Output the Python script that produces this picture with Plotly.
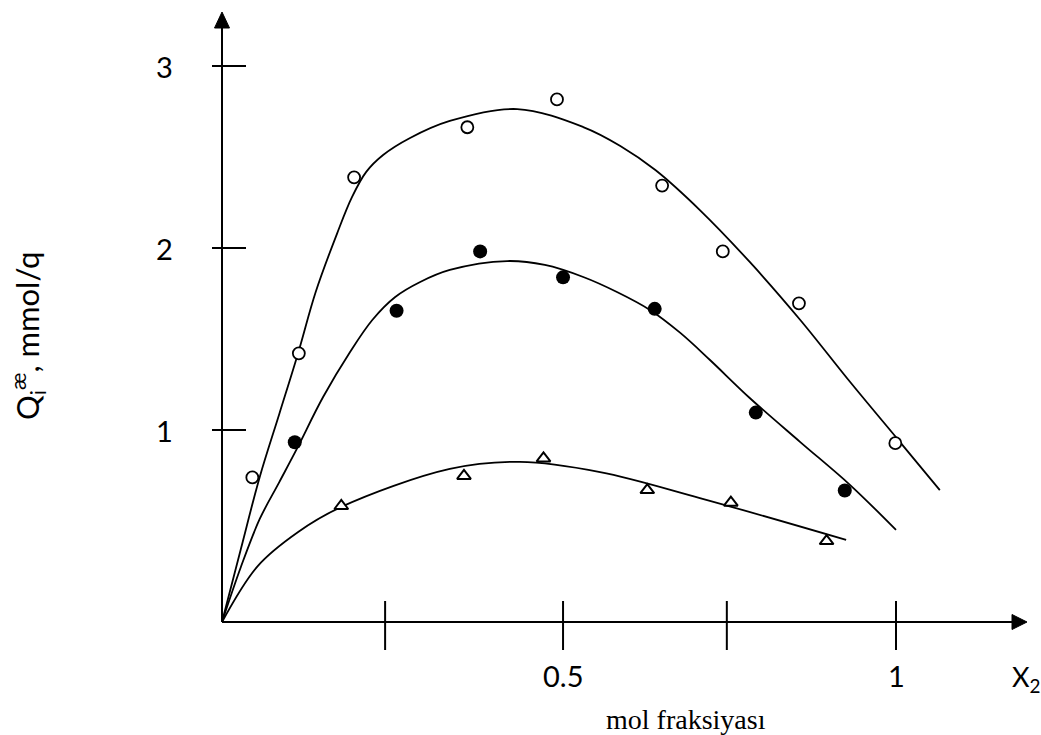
import plotly.graph_objects as go

# ---------------- data ----------------
open_x = [0.045, 0.114, 0.196, 0.364, 0.497, 0.653, 0.743, 0.856, 0.999]
open_y = [0.78, 1.45, 2.40, 2.67, 2.82, 2.355, 2.00, 1.72, 0.965]

filled_x = [0.108, 0.259, 0.383, 0.506, 0.642, 0.792, 0.924]
filled_y = [0.97, 1.68, 2.00, 1.86, 1.69, 1.13, 0.71]

tri_x = [0.177, 0.359, 0.477, 0.631, 0.755, 0.897]
tri_y = [0.626, 0.788, 0.883, 0.712, 0.644, 0.437]

curve_open_x = [0, 0.028, 0.056, 0.085, 0.113, 0.139, 0.171, 0.193, 0.214, 0.239, 0.279,
                0.338, 0.438, 0.536, 0.591, 0.643, 0.709, 0.783, 0.858, 0.932, 1.006, 1.065]
curve_open_y = [0, 0.394, 0.783, 1.123, 1.452, 1.781, 2.099, 2.294, 2.429, 2.520, 2.612,
                2.704, 2.768, 2.671, 2.569, 2.439, 2.223, 1.943, 1.630, 1.295, 0.971, 0.712]

curve_filled_x = [0, 0.028, 0.056, 0.085, 0.111, 0.150, 0.190, 0.223, 0.257, 0.294, 0.338,
                  0.423, 0.479, 0.536, 0.586, 0.635, 0.680, 0.724, 0.783, 0.858, 0.932, 1.000]
curve_filled_y = [0, 0.297, 0.556, 0.755, 0.934, 1.214, 1.457, 1.630, 1.754, 1.835, 1.900,
                  1.948, 1.927, 1.862, 1.781, 1.684, 1.560, 1.414, 1.209, 0.971, 0.739, 0.497]

curve_tri_x = [0, 0.053, 0.113, 0.177, 0.338, 0.442, 0.561, 0.709, 0.926]
curve_tri_y = [0, 0.302, 0.486, 0.621, 0.826, 0.864, 0.809, 0.669, 0.443]

y_tick_labels = ["1", "2", "3"]
y_tick_pos = [1.036, 2.018, 3.0]
x_tick_pos = [0.242, 0.506, 0.749, 1.0]
x_tick_labels = ["", "0.5", "", "1"]

# ---------------- layout constants ----------------
W, H = 1041, 735
X0_PX, PX_PER_X = 222, 674.0
Y0_PX, PX_PER_Y = 622, 185.3
x_range = [-X0_PX / PX_PER_X, (W - X0_PX) / PX_PER_X]
y_range = [-(H - Y0_PX) / PX_PER_Y, Y0_PX / PX_PER_Y]


def dx(px):
    return (px - X0_PX) / PX_PER_X


def dy(py):
    return (Y0_PX - py) / PX_PER_Y


LINE_W = 1.8
fig = go.Figure()

for cx, cy in [(curve_open_x, curve_open_y), (curve_filled_x, curve_filled_y), (curve_tri_x, curve_tri_y)]:
    fig.add_trace(go.Scatter(x=cx, y=cy, mode="lines",
                             line=dict(color="black", width=LINE_W, shape="spline", smoothing=1.0),
                             hoverinfo="skip"))

fig.add_trace(go.Scatter(x=open_x, y=open_y, mode="markers",
                         marker=dict(symbol="circle", size=12, color="white",
                                     line=dict(color="black", width=1.8))))
fig.add_trace(go.Scatter(x=filled_x, y=filled_y, mode="markers",
                         marker=dict(symbol="circle", size=14, color="black",
                                     line=dict(color="black", width=0))))
fig.add_trace(go.Scatter(x=tri_x, y=tri_y, mode="markers",
                         marker=dict(symbol="triangle-up", size=12, color="white",
                                     line=dict(color="black", width=2))))

AX = dict(color="black", width=2)
shapes = []
# axis lines
shapes.append(dict(type="line", xref="x", yref="y", x0=0, x1=0, y0=0, y1=dy(27), line=AX))
shapes.append(dict(type="line", xref="x", yref="y", x0=0, x1=dx(1013), y0=0, y1=0, line=AX))
# arrowheads
shapes.append(dict(type="path", xref="x", yref="y", line=dict(color="black", width=1), fillcolor="black",
                   path=f"M {dx(222)},{dy(12)} L {dx(214.5)},{dy(28)} L {dx(229.5)},{dy(28)} Z"))
shapes.append(dict(type="path", xref="x", yref="y", line=dict(color="black", width=1), fillcolor="black",
                   path=f"M {dx(1027)},{dy(622)} L {dx(1012)},{dy(614.5)} L {dx(1012)},{dy(629.5)} Z"))
# ticks
for yp in y_tick_pos:
    shapes.append(dict(type="line", xref="x", yref="y", x0=dx(212), x1=dx(246), y0=yp, y1=yp, line=AX))
for xp in x_tick_pos:
    shapes.append(dict(type="line", xref="x", yref="y", x0=xp, x1=xp, y0=dy(601), y1=dy(650), line=AX))

annotations = []
TICK_FONT = dict(family="Lato, Open Sans, sans-serif", size=29, color="black")
for lab, yp in zip(y_tick_labels, y_tick_pos):
    annotations.append(dict(x=dx(164), y=yp, xref="x", yref="y", text=lab, showarrow=False,
                            xanchor="center", yanchor="middle", font=TICK_FONT))
for lab, xp in zip(x_tick_labels, x_tick_pos):
    if lab:
        annotations.append(dict(x=xp, y=dy(675), xref="x", yref="y", text=lab, showarrow=False,
                                xanchor="center", yanchor="middle", font=TICK_FONT))

annotations.append(dict(x=dx(1026), y=dy(678), xref="x", yref="y", text="X<sub>2</sub>",
                        showarrow=False, xanchor="center", yanchor="middle",
                        font=dict(family="Lato, Open Sans, sans-serif", size=27, color="black")))
annotations.append(dict(x=dx(604), y=dy(719), xref="x", yref="y", text="mol fraksiyası",
                        showarrow=False, xanchor="left", yanchor="middle",
                        font=dict(family="Liberation Serif, Times New Roman, serif", size=28, color="black")))
annotations.append(dict(x=dx(28), y=dy(336), xref="x", yref="y",
                        text="Q<sub>i</sub><sup>æ</sup>, mmol/q", textangle=-90,
                        showarrow=False, xanchor="center", yanchor="middle",
                        font=dict(family="Lato, Open Sans, sans-serif", size=31, color="black")))

fig.update_layout(
    width=W, height=H, margin=dict(l=0, r=0, t=0, b=0),
    paper_bgcolor="white", plot_bgcolor="white", showlegend=False,
    xaxis=dict(visible=False, range=x_range, fixedrange=True),
    yaxis=dict(visible=False, range=y_range, fixedrange=True),
    shapes=shapes, annotations=annotations,
)

fig.write_html("out.html")
